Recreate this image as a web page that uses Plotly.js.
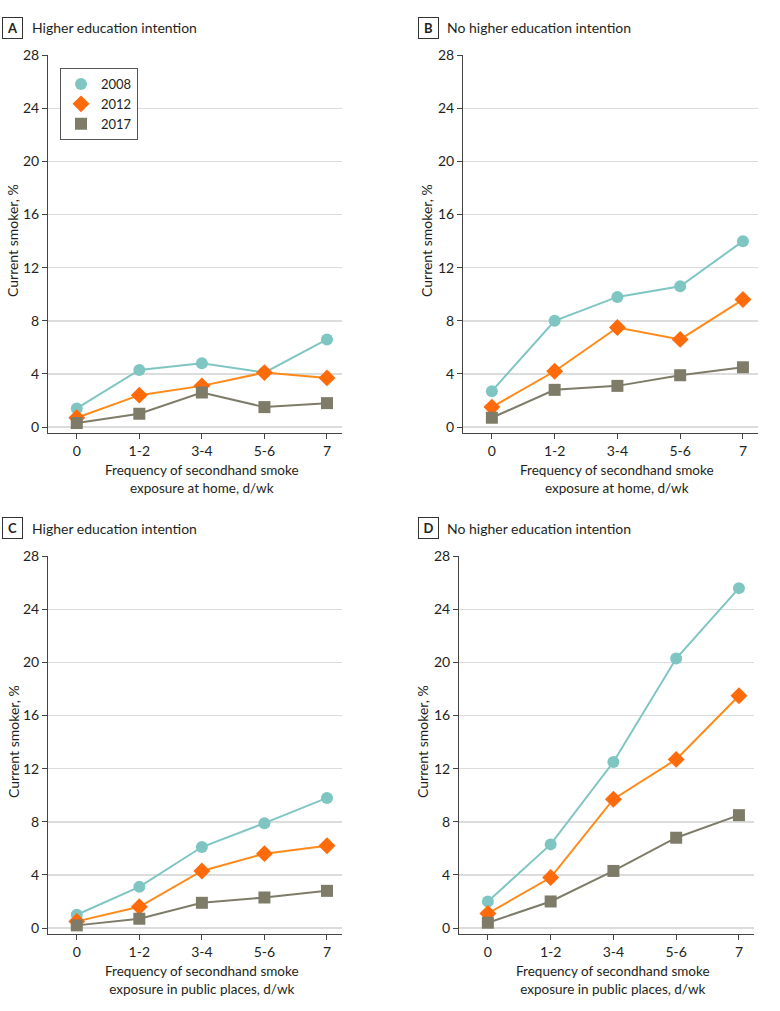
<!DOCTYPE html>
<html>
<head>
<meta charset="utf-8">
<script src="https://cdn.plot.ly/plotly-3.0.1.min.js"></script>
<style>html,body{margin:0;padding:0;background:#fff}#chart{width:780px;height:1011px}</style>
</head>
<body>
<div id="chart"></div>
<script>
// ---- data ----
const categories = ["0", "1-2", "3-4", "5-6", "7"];
const years = ["2008", "2012", "2017"];

// Panel A: higher education intention, home exposure
const homeHigher2008 = [1.4, 4.3, 4.8, 4.1, 6.6];
const homeHigher2012 = [0.7, 2.4, 3.1, 4.1, 3.7];
const homeHigher2017 = [0.3, 1.0, 2.6, 1.5, 1.8];
// Panel B: no higher education intention, home exposure
const homeNoHigher2008 = [2.7, 8.0, 9.8, 10.6, 14.0];
const homeNoHigher2012 = [1.5, 4.2, 7.5, 6.6, 9.6];
const homeNoHigher2017 = [0.7, 2.8, 3.1, 3.9, 4.5];
// Panel C: higher education intention, public places
const publicHigher2008 = [1.0, 3.1, 6.1, 7.9, 9.8];
const publicHigher2012 = [0.5, 1.6, 4.3, 5.6, 6.2];
const publicHigher2017 = [0.2, 0.7, 1.9, 2.3, 2.8];
// Panel D: no higher education intention, public places
const publicNoHigher2008 = [2.0, 6.3, 12.5, 20.3, 25.6];
const publicNoHigher2012 = [1.1, 3.8, 9.7, 12.7, 17.5];
const publicNoHigher2017 = [0.4, 2.0, 4.3, 6.8, 8.5];

const yTicks = [0, 4, 8, 12, 16, 20, 24, 28];
const panelLetters = ["A", "B", "C", "D"];
const panelTitles = ["Higher education intention", "No higher education intention",
                     "Higher education intention", "No higher education intention"];
const xTitles = ["Frequency of secondhand smoke<br>exposure at home, d/wk",
                 "Frequency of secondhand smoke<br>exposure at home, d/wk",
                 "Frequency of secondhand smoke<br>exposure in public places, d/wk",
                 "Frequency of secondhand smoke<br>exposure in public places, d/wk"];
const yTitle = "Current smoker, %";

// ---- styling ----
const W = 780, H = 1011;
const FONT = "Lato, 'Noto Sans', sans-serif";
const TXT = "#231f20";
const lineColors = ["#7fc6c3", "#ff8a1a", "#7e7c69"];
const markerColors = ["#7fc6c3", "#ff6a0a", "#7e7c69"];
const symbols = ["circle", "diamond", "square"];
const px = x => x / W;
const py = y => 1 - y / H;

const panels = [
  {data: [homeHigher2008, homeHigher2012, homeHigher2017], xa: "x", ya: "y",
   left: 48, right: 342, top: 55, bottom: 433, letterX: 12.5, letterY: 27.5, titleX: 30, yTitleX: 13},
  {data: [homeNoHigher2008, homeNoHigher2012, homeNoHigher2017], xa: "x2", ya: "y2",
   left: 463, right: 758, top: 55, bottom: 433, letterX: 428, letterY: 27.5, titleX: 445, yTitleX: 427},
  {data: [publicHigher2008, publicHigher2012, publicHigher2017], xa: "x3", ya: "y3",
   left: 48, right: 342, top: 556, bottom: 934, letterX: 12.5, letterY: 528, titleX: 30, yTitleX: 13},
  {data: [publicNoHigher2008, publicNoHigher2012, publicNoHigher2017], xa: "x4", ya: "y4",
   left: 459, right: 754, top: 556, bottom: 934, letterX: 428, letterY: 528, titleX: 445, yTitleX: 422}
];

const traces = [];
panels.forEach((p, pi) => {
  p.data.forEach((vals, si) => {
    traces.push({
      x: categories, y: vals, xaxis: p.xa, yaxis: p.ya, type: "scatter", mode: "lines",
      line: {color: lineColors[si], width: 2}, showlegend: false, hoverinfo: "skip"
    });
    traces.push({
      x: categories, y: vals, xaxis: p.xa, yaxis: p.ya, type: "scatter", mode: "markers",
      name: years[si], legendgroup: years[si],
      marker: {color: markerColors[si], symbol: symbols[si], size: si === 1 ? 13 : 12},
      showlegend: pi === 0
    });
  });
});

const layout = {
  width: W, height: H,
  margin: {l: 0, r: 0, t: 0, b: 0},
  paper_bgcolor: "#fff", plot_bgcolor: "#fff",
  font: {family: FONT, size: 14, color: TXT},
  showlegend: true,
  legend: {
    x: px(60), y: py(68), xanchor: "left", yanchor: "top",
    bgcolor: "#fff", bordercolor: "#555", borderwidth: 1,
    font: {family: FONT, size: 13, color: TXT},
    itemwidth: 30, tracegroupgap: 0
  },
  annotations: [],
  shapes: []
};

panels.forEach((p, i) => {
  const n = i === 0 ? "" : String(i + 1);
  layout["xaxis" + n] = {
    domain: [px(p.left), px(p.right)],
    anchor: "y" + n,
    type: "category",
    range: [-0.46, 4.24],
    showgrid: false, zeroline: false,
    showline: true, linecolor: "#444", linewidth: 1,
    ticks: "outside", ticklen: 5, tickcolor: "#444",
    tickfont: {family: FONT, size: 14, color: TXT},
    fixedrange: true
  };
  layout["yaxis" + n] = {
    domain: [py(p.bottom), py(p.top)],
    anchor: "x" + n,
    range: [-0.45, 28.02],
    tickvals: yTicks,
    showgrid: true, gridcolor: "#dcdcdc", gridwidth: 1.5,
    zeroline: true, zerolinecolor: "#dcdcdc", zerolinewidth: 1.5,
    showline: true, linecolor: "#444", linewidth: 1,
    ticks: "outside", ticklen: 5, tickcolor: "#444",
    tickfont: {family: FONT, size: 14, color: TXT},
    fixedrange: true
  };
  // panel letter in box
  layout.annotations.push({
    xref: "paper", yref: "paper", x: px(p.letterX), y: py(p.letterY),
    xanchor: "center", yanchor: "middle", showarrow: false,
    text: "<b>" + panelLetters[i] + "</b>",
    font: {family: FONT, size: 13, color: TXT},
    bordercolor: "#333", borderwidth: 1, borderpad: 3, bgcolor: "#fff",
    width: 13, height: 14
  });
  // panel title
  layout.annotations.push({
    xref: "paper", yref: "paper", x: px(p.titleX), y: py(p.letterY),
    xanchor: "left", yanchor: "middle", showarrow: false,
    text: panelTitles[i], font: {family: FONT, size: 14, color: TXT}
  });
  // y title
  layout.annotations.push({
    xref: "paper", yref: "paper", x: px(p.yTitleX), y: py((p.top + p.bottom - 6) / 2),
    xanchor: "center", yanchor: "middle", showarrow: false, textangle: -90,
    text: yTitle, font: {family: FONT, size: 14, color: TXT}
  });
  // x title
  layout.annotations.push({
    xref: "x" + n, yref: "paper", x: 2, y: py(p.bottom + 27),
    xanchor: "center", yanchor: "top", showarrow: false,
    text: xTitles[i], font: {family: FONT, size: 13.5, color: TXT}
  });
});

Plotly.newPlot("chart", traces, layout, {displayModeBar: false, staticPlot: true});
</script>
</body>
</html>
